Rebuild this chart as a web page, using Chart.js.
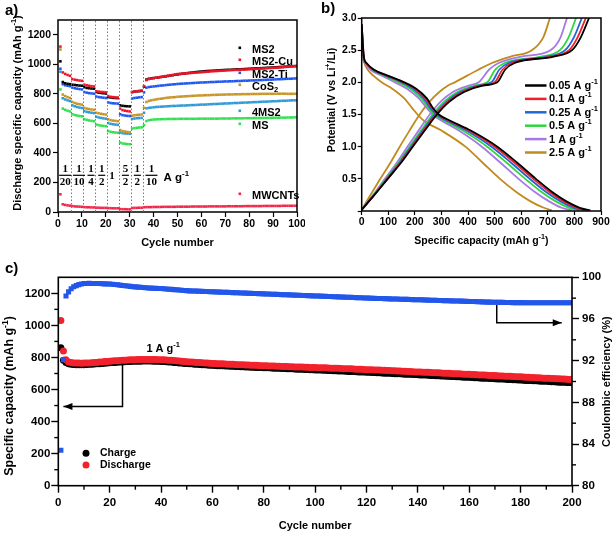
<!DOCTYPE html>
<html><head><meta charset="utf-8">
<script src="https://cdn.jsdelivr.net/npm/chart.js@4.4.1/dist/chart.umd.min.js"></script>
<style>
html,body{margin:0;padding:0;background:#fff;}
#wrap{position:relative;width:616px;height:534px;overflow:hidden;background:#fff;font-family:"Liberation Sans",Arial,sans-serif;}
canvas{position:absolute;}
.pl{position:absolute;font-weight:bold;font-size:15px;color:#000;line-height:16px;}
</style></head><body>
<div id="wrap">
<canvas id="ca" width="305" height="262" style="left:0;top:0;width:305px;height:262px"></canvas>
<canvas id="cb" width="311" height="262" style="left:305px;top:0;width:311px;height:262px"></canvas>
<canvas id="cc" width="616" height="266" style="left:0;top:268px;width:616px;height:266px"></canvas>
<div class="pl" style="left:5px;top:2px">a)</div>
<div class="pl" style="left:321px;top:0px">b)</div>
<div class="pl" style="left:5px;top:260px">c)</div>
</div>
<script>
const FONT = '"Liberation Sans", Arial, Helvetica, sans-serif';

// ================= Panel a: rate performance =================
const rateBoundaries = [5.5, 10.5, 15.5, 20.5, 25.5, 30.5, 35.5];
const rateLabels = [['1','20'],['1','10'],['1','4'],['1','2'],['1'],['5','2'],['1','2'],['1','10']];
const namesA = ['MS2','MS2-Cu','MS2-Ti','CoS2','4MS2','MS','MWCNTs'];
const ms2 = [1020,880,872,868,866, 862,860,858,856,855, 845,840,838,836,835, 812,808,806,804,802, 778,775,773,772,771, 722,719,717,716,715, 812,815,817,818,820,
 848,897,902,905,907,909,911,914,916,918,
 921,924,926,929,931,934,936,938,940,942,
 944,946,948,950,951,953,954,955,956,957,
 958,959,960,961,962,963,963,964,965,966,
 966,967,968,969,970,971,972,973,973,974,
 975,976,977,978,979,980,981,982,983,984,
 985,986,987,988,989];
const ms2Cu = [1120,945,935,928,922, 900,896,893,890,888, 862,858,855,852,850, 818,815,813,812,810, 785,780,778,776,775, 700,690,686,683,681, 812,815,818,820,822,
 852,893,900,903,906,909,912,914,917,920,
 923,926,928,931,934,935,937,938,940,941,
 942,943,944,945,946,948,949,950,952,953,
 954,955,956,957,958,959,960,961,962,962,
 963,964,964,965,966,967,968,969,970,971,
 972,973,974,975,976,977,978,979,980,982,
 983,984,986,987,988];
const ms2Ti = [970,865,858,855,852, 842,838,835,832,830, 812,808,805,803,801, 782,778,776,774,772, 742,738,736,735,734, 662,656,653,651,650, 768,772,774,776,778,
 810,842,846,848,850,852,854,856,857,859,
 861,862,864,865,867,868,869,870,871,872,
 873,874,875,876,877,877,878,879,880,880,
 881,882,882,883,884,884,885,885,886,887,
 887,888,889,889,890,891,891,892,893,893,
 894,895,896,896,897,898,899,899,900,901,
 902,902,903,904,905];
const cos2 = [1100,795,785,778,772, 745,738,733,730,727, 705,700,697,694,692, 672,668,665,662,660, 628,622,619,617,615, 555,548,545,542,540, 652,655,657,658,660,
 705,745,752,756,759,762,765,767,769,772,
 774,776,777,778,780,781,782,783,784,785,
 786,787,788,789,789,790,791,791,792,793,
 793,794,794,795,795,796,796,796,797,797,
 797,798,798,798,798,799,799,799,799,800,
 800,800,800,800,800,801,801,801,801,801,
 800,800,800,800,800];
const ms2x4 = [950,770,762,756,751, 722,716,711,707,704, 683,678,675,672,670, 645,640,637,634,632, 602,597,594,592,590, 538,534,532,531,530, 630,633,635,636,637,
 672,702,705,707,709,711,712,713,714,715,
 716,717,718,718,719,720,721,721,722,723,
 724,724,725,726,727,727,728,729,730,731,
 731,732,733,734,735,735,736,737,738,738,
 739,740,741,741,742,743,744,744,745,746,
 747,747,748,749,750,750,751,752,753,753,
 754,755,756,756,757];
const msS = [830,700,692,686,681, 662,657,653,650,648, 628,624,620,617,615, 592,588,585,583,581, 548,543,540,538,536, 470,464,462,460,459, 565,568,570,572,573,
 588,616,621,624,626,627,628,628,629,629,
 630,630,630,630,630,631,631,631,631,631,
 631,631,631,632,632,632,632,632,632,632,
 632,632,633,633,633,633,633,634,634,634,
 634,634,635,635,635,635,636,636,636,636,
 637,637,637,637,638,638,638,639,639,639,
 640,640,640,641,641];
const mwcnt = [120,52,48,45,43, 40,38,37,36,35, 33,32,32,31,31, 29,29,28,28,28, 26,26,25,25,25, 20,19,19,18,18, 27,28,28,29,29,
 32,33,33,33,34,34,34,34,35,35,
 35,35,35,35,36,36,36,36,36,36,
 37,37,37,37,37,37,37,38,38,38,
 38,38,38,38,38,39,39,39,39,39,
 39,39,40,40,40,40,40,40,40,40,
 41,41,41,41,41,41,41,41,42,42,
 42,42,42,42,42];

// ================= Panel b: charge/discharge profiles =================
const ratesB = ['0.05','0.1','0.25','0.5','1','2.5'];
const chargeV = [0.02,0.25,0.5,0.75,1.0,1.25,1.5,1.7,1.85,1.95,2.0,2.2,2.3,2.4,2.5,2.7,3.0];
const chargeCap = [
 [0,48,98,148,192,237,283,330,385,455,510,540,575,722,791,824,855],
 [0,47,96,145,189,233,279,325,378,447,500,530,565,710,780,812,843],
 [0,46,94,142,185,229,274,319,370,437,488,518,553,695,765,798,828],
 [0,45,91,138,180,223,267,310,360,425,472,503,538,675,745,778,806],
 [0,43,87,132,172,214,256,297,343,403,440,480,515,600,710,748,772],
 [0,33,70,108,143,180,218,255,292,325,350,440,490,560,640,683,708]
];
const dischargeV = [2.9,2.4,2.3,2.2,2.1,2.0,1.9,1.75,1.6,1.5,1.4,1.25,1.0,0.75,0.5,0.3,0.15,0.05,0.01];
const dischargeCap = [
 [0,8,18,45,100,160,205,245,268,290,335,410,510,585,655,715,770,820,860],
 [0,8,17,43,97,156,200,240,264,286,330,403,500,575,645,705,760,810,850],
 [0,7,16,40,92,150,193,233,258,280,322,393,488,562,632,692,748,798,838],
 [0,7,15,37,86,140,183,225,252,274,313,380,472,545,615,675,730,780,818],
 [0,6,13,32,78,125,170,215,245,266,302,365,452,522,590,650,705,752,790],
 [0,5,10,22,45,75,115,160,190,210,235,300,390,455,520,580,635,685,715]
];

// ================= Panel c: long cycling at 1 A/g =================
const dischargeC = [
 1030,840,785,772,768,766,765,765,764,765,
 765,766,767,768,769,771,772,774,775,777,
 778,779,780,781,782,783,784,785,786,786,
 787,787,788,788,788,788,787,787,786,786,
 785,784,783,782,781,779,778,776,775,773,
 772,771,770,769,768,767,766,765,764,763,
 762,761,761,760,759,758,758,757,756,755,
 755,754,753,753,752,751,751,750,749,748,
 748,747,747,746,745,745,744,744,743,742,
 742,741,741,740,740,739,739,738,737,737,
 736,736,735,735,734,733,733,732,732,731,
 730,730,729,729,728,727,727,726,725,724,
 724,723,722,722,721,720,720,719,718,717,
 717,716,715,714,714,713,712,711,710,710,
 709,708,707,707,706,705,704,704,703,702,
 701,701,700,699,698,698,697,696,695,695,
 694,693,692,691,691,690,689,688,687,687,
 686,685,684,683,683,682,681,680,679,679,
 678,677,676,675,675,674,673,672,671,671,
 670,669,668,667,667,666,665,664,663,662];
const chargeC = [
 860,782,768,760,757,756,755,755,755,755,
 756,757,758,759,760,761,763,764,766,767,
 768,769,770,771,772,773,774,775,776,776,
 777,777,778,778,778,778,777,777,776,775,
 774,773,772,771,769,768,766,765,763,762,
 761,760,758,757,756,755,754,753,752,751,
 750,749,749,748,747,746,745,745,744,743,
 742,742,741,740,739,739,738,737,737,736,
 735,735,734,733,733,732,731,731,730,729,
 729,728,727,727,726,725,725,724,723,722,
 722,721,720,720,719,718,717,717,716,715,
 715,714,713,712,712,711,710,709,709,708,
 707,706,706,705,704,703,702,702,701,700,
 699,699,698,697,696,695,695,694,693,692,
 691,691,690,689,688,687,686,686,685,684,
 683,682,681,681,680,679,678,677,676,676,
 675,674,673,672,671,671,670,669,668,667,
 666,666,665,664,663,662,661,661,660,659,
 658,657,656,656,655,654,653,652,651,651,
 650,649,648,647,646,646,645,644,643,642];
const ceC = [
 83.4,92.1,98.2,98.6,98.9,99.1,99.2,99.3,99.35,99.4,
 99.4,99.42,99.4,99.41,99.4,99.4,99.38,99.37,99.36,99.35,
 99.33,99.31,99.28,99.25,99.22,99.19,99.16,99.13,99.1,99.08,
 99.06,99.04,99.02,99.0,98.98,98.96,98.95,98.94,98.93,98.92,
 98.9,98.88,98.86,98.84,98.82,98.8,98.78,98.76,98.74,98.72,
 98.7,98.69,98.68,98.67,98.66,98.65,98.64,98.63,98.62,98.61,
 98.6,98.59,98.58,98.57,98.56,98.55,98.54,98.53,98.52,98.51,
 98.5,98.49,98.48,98.47,98.46,98.45,98.44,98.43,98.42,98.41,
 98.4,98.39,98.38,98.37,98.36,98.35,98.34,98.33,98.32,98.31,
 98.3,98.29,98.28,98.27,98.26,98.25,98.24,98.23,98.22,98.21,
 98.2,98.19,98.18,98.17,98.16,98.15,98.14,98.13,98.12,98.11,
 98.1,98.09,98.08,98.07,98.06,98.05,98.04,98.03,98.02,98.01,
 98.0,97.99,97.98,97.97,97.96,97.96,97.95,97.94,97.93,97.92,
 97.92,97.91,97.9,97.89,97.88,97.88,97.87,97.86,97.85,97.84,
 97.84,97.83,97.82,97.81,97.8,97.8,97.79,97.78,97.77,97.76,
 97.76,97.75,97.74,97.73,97.72,97.72,97.71,97.7,97.69,97.68,
 97.68,97.67,97.66,97.65,97.64,97.63,97.62,97.62,97.61,97.6,
 97.6,97.59,97.59,97.58,97.58,97.58,97.57,97.57,97.57,97.57,
 97.57,97.56,97.56,97.56,97.56,97.56,97.56,97.56,97.56,97.56,
 97.56,97.56,97.56,97.56,97.56,97.56,97.56,97.56,97.56,97.56];
const arrowLeft = {x:[25,25,2], y:[760,494,494]};
const arrowRight = {x:[170.7,170.7,196], y:[97.34,95.64,95.64]};

// ================= helpers =================
function rich(ctx, parts, x, y, size, align, rot) {
  ctx.save();
  ctx.translate(x, y);
  if (rot) ctx.rotate(rot);
  const f = s => 'bold ' + s + 'px ' + FONT;
  let total = 0;
  const ws = parts.map(p => { ctx.font = f(p[1] ? size * 0.68 : size); const w = ctx.measureText(p[0]).width; total += w; return w; });
  let cx = align === 'center' ? -total / 2 : (align === 'right' ? -total : 0);
  ctx.textBaseline = 'middle'; ctx.textAlign = 'left'; ctx.fillStyle = '#000';
  parts.forEach((p, i) => {
    ctx.font = f(p[1] ? size * 0.68 : size);
    const dy = p[1] === 1 ? -size * 0.36 : (p[1] === -1 ? size * 0.3 : 0);
    ctx.fillText(p[0], cx, dy);
    cx += ws[i];
  });
  ctx.restore();
}
function boxPlugin(lw) {
  return { id: 'box', afterDraw(c) { const a = c.chartArea, x = c.ctx; x.save(); x.strokeStyle = '#000'; x.lineWidth = lw; x.strokeRect(a.left, a.top, a.right - a.left, a.bottom - a.top); x.restore(); } };
}
function drawArrow(ctx, pts, head) {
  ctx.save(); ctx.strokeStyle = '#000'; ctx.fillStyle = '#000'; ctx.lineWidth = 1.5;
  ctx.beginPath(); ctx.moveTo(pts[0][0], pts[0][1]);
  for (let i = 1; i < pts.length; i++) ctx.lineTo(pts[i][0], pts[i][1]);
  ctx.stroke();
  const n = pts.length, p = pts[n - 1], q = pts[n - 2];
  const ang = Math.atan2(p[1] - q[1], p[0] - q[0]);
  ctx.translate(p[0], p[1]); ctx.rotate(ang);
  ctx.beginPath(); ctx.moveTo(0, 0); ctx.lineTo(-head, -head * 0.4); ctx.lineTo(-head, head * 0.4); ctx.closePath(); ctx.fill();
  ctx.restore();
}
function tickFont(size) { return { family: FONT, size: size, weight: 'bold' }; }
const plain = v => String(v);
function fixW(w) { return s => { s.width = w; s.paddingTop = 0; s.paddingBottom = 0; }; }
function fixH(h) { return s => { s.height = h; s.paddingLeft = 0; s.paddingRight = 0; }; }
const base = { responsive: false, animation: false, devicePixelRatio: 1, plugins: { legend: { display: false }, tooltip: { enabled: false } } };

// ================= Chart a =================
const colorsA = ['#000000', '#f0142a', '#1f56f0', '#c89628', '#2f9ad8', '#34e052', '#f0284a'];
const valsA = [ms2, ms2Cu, ms2Ti, cos2, ms2x4, msS, mwcnt];
const drawOrderA = [1, 0, 2, 3, 4, 5, 6];
new Chart(document.getElementById('ca'), {
  type: 'scatter',
  data: { datasets: drawOrderA.map(k => ({ label: namesA[k], data: valsA[k].map((v, i) => ({ x: i + 1, y: v })), pointStyle: 'rect', pointRadius: 1.8, borderWidth: 0, backgroundColor: colorsA[k] })) },
  options: Object.assign({}, base, {
    layout: { padding: { top: 20, right: 8, left: 0, bottom: 0 } },
    scales: {
      x: { type: 'linear', min: 0, max: 100, ticks: { stepSize: 10, color: '#000', font: tickFont(10.5), padding: 1, maxRotation: 0, autoSkip: false, callback: plain }, grid: { drawOnChartArea: false, color: '#000', tickLength: 5, tickWidth: 1.2 }, border: { display: false }, afterFit: fixH(50) },
      y: { min: 0, max: 1300, ticks: { stepSize: 200, includeBounds: false, color: '#000', font: tickFont(10.5), padding: 2, callback: plain }, grid: { drawOnChartArea: false, color: '#000', tickLength: 5, tickWidth: 1.2 }, border: { display: false }, afterFit: fixW(58) }
    }
  }),
  plugins: [boxPlugin(1.5), { id: 'annA', afterDraw(c) {
    const ctx = c.ctx, xs = c.scales.x, a = c.chartArea;
    ctx.save();
    ctx.strokeStyle = '#6a7a96'; ctx.lineWidth = 1; ctx.setLineDash([1.5, 2]);
    rateBoundaries.forEach(b => { const px = Math.round(xs.getPixelForValue(b)) + 0.5; ctx.beginPath(); ctx.moveTo(px, a.top + 1); ctx.lineTo(px, a.bottom); ctx.stroke(); });
    ctx.setLineDash([]);
    const lx = [3.0, 8.8, 13.8, 18.3, 22.6, 28.2, 33.2, 39.1];
    ctx.fillStyle = '#000'; ctx.strokeStyle = '#000'; ctx.textAlign = 'center'; ctx.textBaseline = 'middle';
    ctx.font = 'bold 11px "Liberation Serif", "DejaVu Serif", serif';
    rateLabels.forEach((r, i) => {
      const px = xs.getPixelForValue(lx[i]);
      if (r.length === 1) { ctx.fillText(r[0], px, 176.5); return; }
      ctx.fillText(r[0], px, 169);
      ctx.fillText(r[1], px, 182);
      const w = Math.max(ctx.measureText(r[1]).width, 6) + 1;
      ctx.lineWidth = 1.2; ctx.beginPath(); ctx.moveTo(px - w / 2, 175.3); ctx.lineTo(px + w / 2, 175.3); ctx.stroke();
    });
    ctx.restore();
    rich(ctx, [['A g', 0], ['-1', 1]], 163.5, 177.5, 11.5, 'left');
    // legend
    const legY = [50, 62, 75, 87, 113, 126, 196];
    const legParts = [[['MS2', 0]], [['MS2-Cu', 0]], [['MS2-Ti', 0]], [['CoS', 0], ['2', -1]], [['4MS2', 0]], [['MS', 0]], [['MWCNTs', 0]]];
    legY.forEach((y, i) => {
      ctx.fillStyle = colorsA[i]; ctx.fillRect(238.5, y - 3.5, 2.6, 2.6);
      rich(ctx, legParts[i], 252, y, 11, 'left');
    });
    rich(ctx, [['Discharge specific capacity (mAh g', 0], ['-1', 1], [')', 0]], 18, 113, 11, 'center', -Math.PI / 2);
    rich(ctx, [['Cycle number', 0]], (a.left + a.right) / 2, 242.7, 11, 'center');
  } }]
});

// ================= Chart b =================
const colorsB = ['#000000', '#f0202a', '#2166d9', '#2fd640', '#a878e6', '#c08a1c'];
const dsB = [];
ratesB.forEach((r, k) => {
  dsB.push({ label: r + ' d', data: dischargeCap[k].map((c, i) => ({ x: c, y: dischargeV[i] })), borderColor: colorsB[k], borderWidth: 1.8, showLine: true, pointRadius: 0, cubicInterpolationMode: 'monotone' });
  dsB.push({ label: r + ' c', data: chargeCap[k].map((c, i) => ({ x: c, y: chargeV[i] })), borderColor: colorsB[k], borderWidth: 1.8, showLine: true, pointRadius: 0, cubicInterpolationMode: 'monotone' });
});
new Chart(document.getElementById('cb'), {
  type: 'scatter',
  data: { datasets: dsB },
  options: Object.assign({}, base, {
    layout: { padding: { top: 18, right: 15, left: 0, bottom: 0 } },
    scales: {
      x: { type: 'linear', min: 0, max: 900, ticks: { stepSize: 100, color: '#000', font: tickFont(10.5), padding: 1, maxRotation: 0, autoSkip: false, callback: plain }, grid: { drawOnChartArea: false, color: '#000', tickLength: 4, tickWidth: 1.2 }, border: { display: false }, afterFit: fixH(51) },
      y: { min: 0, max: 3, ticks: { stepSize: 0.5, color: '#000', font: tickFont(10.5), padding: 1, callback: v => v === 0 ? '' : v.toFixed(1) }, grid: { drawOnChartArea: false, color: '#000', tickLength: 4, tickWidth: 1.2 }, border: { display: false }, afterFit: fixW(56.7) }
    }
  }),
  plugins: [boxPlugin(1.5), { id: 'annB', afterDraw(c) {
    const ctx = c.ctx, a = c.chartArea;
    ratesB.forEach((r, i) => {
      const y = 85.5 + i * 13.4;
      ctx.save(); ctx.strokeStyle = colorsB[i]; ctx.lineWidth = 2.5; ctx.beginPath(); ctx.moveTo(220, y); ctx.lineTo(241.5, y); ctx.stroke(); ctx.restore();
      rich(ctx, [[r + ' A g', 0], ['-1', 1]], 244, y + 0.5, 11, 'left');
    });
    rich(ctx, [['Potential (V vs Li', 0], ['+', 1], ['/Li)', 0]], 26.7, 100, 10.5, 'center', -Math.PI / 2);
    rich(ctx, [['Specific capacity (mAh g', 0], ['-1', 1], [')', 0]], (a.left + a.right) / 2, 240.7, 10.5, 'center');
  } }]
});

// ================= Chart c =================
const minorX = [], minorY = [], minorY1 = [];
for (let v = 10; v < 200; v += 20) minorX.push(v);
for (let v = 100; v < 1300; v += 200) minorY.push(v);
for (let v = 82; v < 100; v += 4) minorY1.push(v);
new Chart(document.getElementById('cc'), {
  type: 'scatter',
  data: { datasets: [
    { label: 'CE', yAxisID: 'y1', data: ceC.map((v, i) => ({ x: i + 1, y: v })), pointStyle: 'rect', pointRadius: 3.6, borderWidth: 0, backgroundColor: '#2356ea' },
    { label: 'Discharge', yAxisID: 'y', data: dischargeC.map((v, i) => ({ x: i + 1, y: v })), pointRadius: 3.5, borderWidth: 0, backgroundColor: '#f2222c' },
    { label: 'Charge', yAxisID: 'y', data: chargeC.map((v, i) => ({ x: i + 1, y: v })), pointRadius: 3.5, borderWidth: 0, backgroundColor: '#000000' }
  ] },
  options: Object.assign({}, base, {
    layout: { padding: { top: 9.3, right: 0, left: 0, bottom: 0 } },
    scales: {
      x: { type: 'linear', min: 0, max: 200, ticks: { stepSize: 20, color: '#000', font: tickFont(11.5), padding: 3, maxRotation: 0, autoSkip: false, callback: plain }, grid: { drawOnChartArea: false, color: '#000', tickLength: 7, tickWidth: 1.4 }, border: { display: false }, afterFit: fixH(48.3) },
      y: { position: 'left', min: 0, max: 1300, ticks: { stepSize: 200, includeBounds: false, color: '#000', font: tickFont(11.5), padding: 1, callback: plain }, grid: { drawOnChartArea: false, color: '#000', tickLength: 7, tickWidth: 1.4 }, border: { display: false }, afterFit: fixW(58.3) },
      y1: { position: 'right', min: 80, max: 100, ticks: { stepSize: 4, color: '#000', font: tickFont(11.5), padding: 3, callback: plain }, grid: { drawOnChartArea: false, color: '#000', tickLength: 7, tickWidth: 1.4 }, border: { display: false }, afterFit: fixW(44) }
    }
  }),
  plugins: [boxPlugin(1.6), { id: 'annC', afterDraw(c) {
    const ctx = c.ctx, a = c.chartArea, xs = c.scales.x, ys = c.scales.y, y1 = c.scales.y1;
    ctx.save(); ctx.strokeStyle = '#000'; ctx.lineWidth = 1.4;
    minorX.forEach(v => { const p = xs.getPixelForValue(v); ctx.beginPath(); ctx.moveTo(p, a.bottom); ctx.lineTo(p, a.bottom + 4); ctx.stroke(); });
    minorY.forEach(v => { const p = ys.getPixelForValue(v); ctx.beginPath(); ctx.moveTo(a.left, p); ctx.lineTo(a.left - 4, p); ctx.stroke(); });
    minorY1.forEach(v => { const p = y1.getPixelForValue(v); ctx.beginPath(); ctx.moveTo(a.right, p); ctx.lineTo(a.right + 4, p); ctx.stroke(); });
    ctx.restore();
    drawArrow(ctx, arrowLeft.x.map((x, i) => [xs.getPixelForValue(x), ys.getPixelForValue(arrowLeft.y[i])]), 9);
    drawArrow(ctx, arrowRight.x.map((x, i) => [xs.getPixelForValue(x), y1.getPixelForValue(arrowRight.y[i])]), 9);
    rich(ctx, [['1 A g', 0], ['-1', 1]], xs.getPixelForValue(34.3), ys.getPixelForValue(855), 11, 'left');
    // legend
    ctx.save();
    ctx.fillStyle = '#000'; ctx.beginPath(); ctx.arc(86, 185.3, 3.5, 0, Math.PI * 2); ctx.fill();
    ctx.fillStyle = '#f2222c'; ctx.beginPath(); ctx.arc(86, 197, 3.5, 0, Math.PI * 2); ctx.fill();
    ctx.restore();
    rich(ctx, [['Charge', 0]], 100, 185.3, 10.5, 'left');
    rich(ctx, [['Discharge', 0]], 100, 197, 10.5, 'left');
    rich(ctx, [['Specific capacity (mAh g', 0], ['-1', 1], [')', 0]], 10, 128, 12.5, 'center', -Math.PI / 2);
    rich(ctx, [['Coulombic efficiency (%)', 0]], 606.7, 113.7, 11, 'center', -Math.PI / 2);
    rich(ctx, [['Cycle number', 0]], (a.left + a.right) / 2, 257.7, 11, 'center');
  } }]
});
</script>
</body></html>
